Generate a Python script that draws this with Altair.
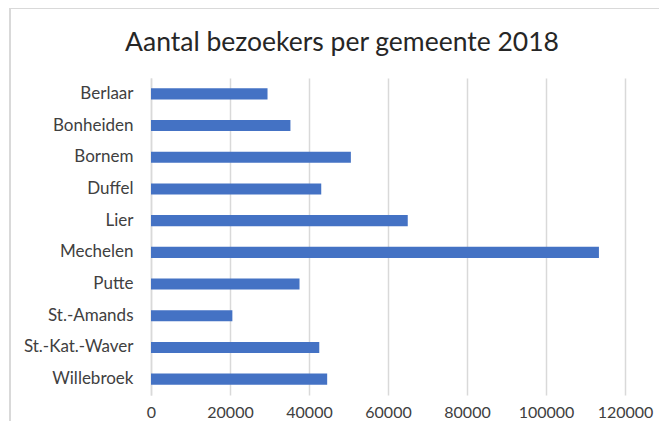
import altair as alt
import pandas as pd

gemeenten = ["Berlaar", "Bonheiden", "Bornem", "Duffel", "Lier", "Mechelen",
             "Putte", "St.-Amands", "St.-Kat.-Waver", "Willebroek"]
bezoekers = [29500, 35300, 50600, 43100, 65000, 113400, 37600, 20600, 42600, 44600]
x_ticks = [0, 20000, 40000, 60000, 80000, 100000, 120000]
title_text = "Aantal bezoekers per gemeente 2018"

df = pd.DataFrame({"gemeente": gemeenten, "bezoekers": bezoekers})

FONT = "Lato"
TXT = "#404040"
GRID = "#D9D9D9"

bars = alt.Chart(df).mark_bar(color="#4472C4").encode(
    y=alt.Y("gemeente:N", sort=None, title=None,
            scale=alt.Scale(paddingInner=0.65, paddingOuter=0.325),
            axis=alt.Axis(labelFont=FONT, labelFontSize=17, labelColor=TXT,
                          ticks=False, domainColor=GRID, domainWidth=1.5,
                          labelPadding=18, grid=False)),
    x=alt.X("bezoekers:Q", title=None,
            scale=alt.Scale(domain=[0, 120000], nice=False),
            axis=alt.Axis(values=x_ticks, format="d", labelFont=FONT,
                          labelFontSize=16, labelColor=TXT, ticks=False,
                          domain=False, grid=True, gridColor=GRID,
                          gridWidth=1.5, labelPadding=9,
                          labelOverlap=False, labelFlush=False)),
)

one = pd.DataFrame({"t": [title_text]})

frame = alt.Chart(one).mark_rect(
    fill=None, stroke=GRID, strokeWidth=2
).encode(
    x=alt.value(-141), y=alt.value(-70),
    x2=alt.value(700), y2=alt.value(700),
)

title = alt.Chart(one).mark_text(
    font=FONT, fontSize=26.5, color="#262626", align="center",
    baseline="alphabetic"
).encode(
    text="t:N", x=alt.value(191), y=alt.value(-27),
)

chart = alt.layer(frame, bars, title).properties(
    width=474, height=317,
    padding={"left": 143, "top": 70, "right": 34, "bottom": 26},
    autosize=alt.AutoSizeParams(type="none"),
).configure_view(stroke=None)

chart.save("out.html", embed_options={"renderer": "svg", "actions": False})
